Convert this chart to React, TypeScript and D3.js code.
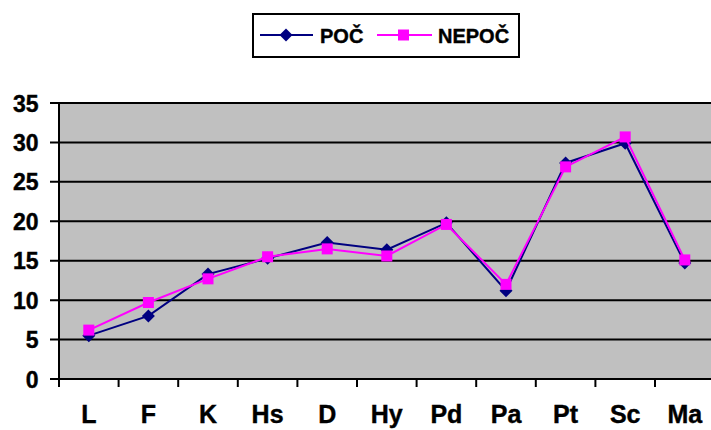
import React from "react";
import * as d3 from "d3";

const categories = ["L", "F", "K", "Hs", "D", "Hy", "Pd", "Pa", "Pt", "Sc", "Ma"];
const pocValues = [5.5, 8.0, 13.3, 15.3, 17.3, 16.4, 19.8, 11.2, 27.4, 29.9, 14.7];
const nepocValues = [6.2, 9.7, 12.7, 15.5, 16.5, 15.6, 19.6, 12.0, 26.9, 30.7, 15.1];
const yTicks = [0, 5, 10, 15, 20, 25, 30, 35];
const seriesNames = ["POČ", "NEPOČ"];

const W = 711;
const H = 430;
const left = 59;
const right = 714.6;
const top = 103;
const bottom = 379;
const font = "'Liberation Sans', Arial, sans-serif";

export default function App() {
  const x = d3.scaleBand<string>().domain(categories).range([left, right]).padding(0);
  const y = d3.scaleLinear().domain([0, 35]).range([bottom, top]);
  const cx = (c: string) => (x(c) as number) + x.bandwidth() / 2;
  const line = d3
    .line<number>()
    .x((_, i) => cx(categories[i]))
    .y((d) => y(d));

  const boundaries = d3.range(categories.length + 1).map((i) => left + i * x.bandwidth());

  const diamond = (px: number, py: number, r: number) =>
    `M${px},${py - r}L${px + r},${py}L${px},${py + r}L${px - r},${py}Z`;

  const textStyle = { stroke: "#000", strokeWidth: 0.4 };

  return (
    <svg width={W} height={H} style={{ position: "absolute", left: 0, top: 0, background: "#fff" }}>
      <rect x={left} y={top} width={right - left} height={bottom - top} fill="#C0C0C0" />
      {yTicks.map((t) => (
        <g key={t}>
          <line x1={50} x2={right} y1={y(t)} y2={y(t)} stroke="#000" strokeWidth={2} />
          <text x={38.5} y={y(t) + 8.5} textAnchor="end" fontFamily={font} fontWeight="bold" fontSize={23} style={textStyle}>
            {t}
          </text>
        </g>
      ))}
      <line x1={left} x2={left} y1={top} y2={bottom + 1} stroke="#000" strokeWidth={2} />
      {boundaries.map((b, i) => (
        <line key={i} x1={b} x2={b} y1={bottom} y2={bottom + 8} stroke="#000" strokeWidth={2} />
      ))}
      {categories.map((c) => (
        <text key={c} x={cx(c)} y={423} textAnchor="middle" fontFamily={font} fontWeight="bold" fontSize={25} style={textStyle}>
          {c}
        </text>
      ))}
      <path d={line(pocValues) || ""} fill="none" stroke="#000080" strokeWidth={2} />
      {pocValues.map((v, i) => (
        <path key={i} d={diamond(cx(categories[i]), y(v), 6.5)} fill="#000080" />
      ))}
      <path d={line(nepocValues) || ""} fill="none" stroke="#FF00FF" strokeWidth={2} />
      {nepocValues.map((v, i) => (
        <rect key={i} x={cx(categories[i]) - 5.5} y={y(v) - 5.5} width={11} height={11} fill="#FF00FF" />
      ))}
      {/* legend */}
      <rect x={253} y={14} width={266} height={43} fill="#fff" stroke="#000" strokeWidth={2} />
      <line x1={260} x2={313} y1={35} y2={35} stroke="#000080" strokeWidth={2} />
      <path d={diamond(286, 35, 6.5)} fill="#000080" />
      <text x={320} y={43} fontFamily={font} fontWeight="bold" fontSize={20} style={textStyle}>
        {seriesNames[0]}
      </text>
      <line x1={377} x2={432} y1={35} y2={35} stroke="#FF00FF" strokeWidth={2} />
      <rect x={398} y={29.5} width={11} height={11} fill="#FF00FF" />
      <text x={438} y={43} fontFamily={font} fontWeight="bold" fontSize={20} style={textStyle}>
        {seriesNames[1]}
      </text>
    </svg>
  );
}
